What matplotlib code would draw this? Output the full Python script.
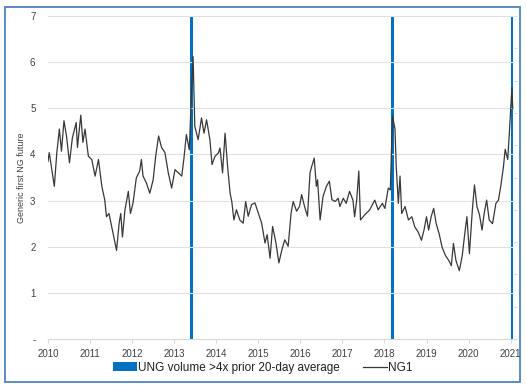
import matplotlib
matplotlib.use("Agg")
import matplotlib.pyplot as plt
from matplotlib.patches import Rectangle, Patch
from matplotlib.lines import Line2D

plt.rcParams['font.family'] = ['Liberation Sans', 'DejaVu Sans']

# NG1 front-month price (decimal year, $/MMBtu)
ng1_dates = [
    2010.00, 2010.03, 2010.15, 2010.21, 2010.27, 2010.32, 2010.38, 2010.44, 2010.51, 2010.58,
    2010.67, 2010.70, 2010.78, 2010.83, 2010.88, 2010.96, 2011.04, 2011.12, 2011.20, 2011.28,
    2011.35, 2011.39, 2011.45, 2011.50, 2011.55, 2011.63, 2011.69, 2011.73, 2011.77, 2011.83,
    2011.91, 2011.96, 2012.02, 2012.10, 2012.18, 2012.22, 2012.26, 2012.34, 2012.42, 2012.50,
    2012.56, 2012.63, 2012.70, 2012.78, 2012.86, 2012.94, 2013.02, 2013.10, 2013.18, 2013.23,
    2013.29, 2013.36, 2013.42, 2013.45, 2013.49, 2013.57, 2013.65, 2013.71, 2013.77, 2013.85,
    2013.90, 2013.97, 2014.05, 2014.09, 2014.15, 2014.21, 2014.27, 2014.33, 2014.37, 2014.42,
    2014.48, 2014.56, 2014.64, 2014.70, 2014.76, 2014.84, 2014.92, 2015.00, 2015.08, 2015.16,
    2015.21, 2015.28, 2015.34, 2015.42, 2015.49, 2015.56, 2015.63, 2015.71, 2015.78, 2015.83,
    2015.91, 2015.98, 2016.03, 2016.10, 2016.17, 2016.23, 2016.27, 2016.33, 2016.38, 2016.41,
    2016.47, 2016.54, 2016.62, 2016.69, 2016.75, 2016.83, 2016.90, 2016.94, 2017.02, 2017.09,
    2017.17, 2017.25, 2017.29, 2017.34, 2017.39, 2017.43, 2017.53, 2017.65, 2017.77, 2017.85,
    2017.95, 2018.01, 2018.09, 2018.14, 2018.19, 2018.25, 2018.28, 2018.33, 2018.37, 2018.41,
    2018.49, 2018.57, 2018.65, 2018.72, 2018.80, 2018.88, 2018.94, 2019.00, 2019.05, 2019.11,
    2019.17, 2019.23, 2019.30, 2019.37, 2019.45, 2019.53, 2019.59, 2019.64, 2019.70, 2019.78,
    2019.85, 2019.90, 2019.96, 2020.02, 2020.09, 2020.14, 2020.20, 2020.26, 2020.32, 2020.37,
    2020.43, 2020.49, 2020.57, 2020.65, 2020.71, 2020.77, 2020.83, 2020.87, 2020.93, 2020.97,
    2021.01, 2021.03, 2021.05,
]
ng1_values = [
    3.85, 4.04, 3.31, 4.04, 4.55, 4.07, 4.73, 4.40, 3.82, 4.36,
    4.69, 4.15, 4.85, 4.26, 4.55, 3.96, 3.89, 3.53, 3.89, 3.31,
    3.01, 2.65, 2.72, 2.50, 2.28, 1.92, 2.50, 2.72, 2.21, 2.80,
    3.20, 2.72, 2.94, 3.49, 3.64, 3.89, 3.53, 3.38, 3.16, 3.45,
    3.96, 4.40, 4.15, 4.04, 3.60, 3.27, 3.67, 3.60, 3.53, 3.90,
    4.43, 4.10, 5.55, 6.12, 4.61, 4.32, 4.79, 4.46, 4.75, 4.32,
    3.78, 3.96, 4.03, 4.14, 3.60, 4.46, 3.74, 3.16, 2.98, 2.58,
    2.80, 2.58, 2.51, 2.98, 2.66, 2.91, 2.95, 2.73, 2.51, 2.08,
    2.26, 1.75, 2.44, 2.08, 1.65, 1.93, 2.15, 2.01, 2.73, 2.98,
    2.77, 2.87, 3.13, 2.87, 2.66, 3.60, 3.74, 3.92, 3.31, 3.45,
    2.58, 3.09, 3.31, 3.42, 3.02, 2.98, 3.05, 2.87, 3.05, 2.94,
    3.20, 3.01, 2.65, 3.01, 3.64, 2.58, 2.69, 2.80, 3.01, 2.80,
    2.94, 2.83, 3.27, 3.23, 4.84, 4.55, 3.74, 2.94, 3.53, 2.72,
    2.87, 2.58, 2.65, 2.43, 2.32, 2.14, 2.36, 2.65, 2.36, 2.65,
    2.83, 2.50, 2.28, 1.99, 1.81, 1.70, 1.59, 2.07, 1.70, 1.48,
    1.81, 2.21, 2.65, 1.85, 2.80, 3.34, 2.87, 2.69, 2.36, 2.72,
    3.01, 2.58, 2.50, 2.94, 3.01, 3.34, 3.74, 4.11, 3.89, 4.47,
    5.13, 5.45, 5.00,
]

# days where UNG volume exceeded 4x its prior 20-day average
spike_dates = [2013.415, 2018.19, 2021.04]
spike_span = [0.06, 0.085, 0.05]
spike_flag = [1, 1, 1]

year_ticks = list(range(2010, 2022))
y_ticks = [0, 1, 2, 3, 4, 5, 6, 7]
y_labels = ['-', '1', '2', '3', '4', '5', '6', '7']

blue = '#0070C0'
grey_txt = '#404040'

fig = plt.figure(figsize=(5.26, 3.88), dpi=100)
ax = fig.add_axes([48 / 526, 1 - 339 / 388, (514 - 48) / 526, (339 - 16) / 388])
ax2 = ax.twinx()

ax2.bar(spike_dates, spike_flag, width=spike_span, color=blue, align='center', linewidth=0)
ax2.set_ylim(0, 1)
ax2.set_yticks([i / 10 for i in range(11)])
ax2.set_yticklabels([])
ax2.tick_params(axis='y', length=2, color='#d9d9d9', direction='out')
for s in ax2.spines.values():
    s.set_visible(False)

ax.set_zorder(ax2.get_zorder() + 1)
ax.patch.set_visible(False)
ax.plot(ng1_dates, ng1_values, color='#383838', lw=0.9)

ax.set_xlim(2010, 2021.08)
ax.set_ylim(0, 7)
ax.set_xticks(year_ticks)
ax.set_xticklabels([str(y) for y in year_ticks], fontsize=7, color=grey_txt)
ax.set_yticks(y_ticks)
ax.set_yticklabels(y_labels, fontsize=7, color=grey_txt)
ax.tick_params(axis='y', length=0, pad=9)
ax.tick_params(axis='x', length=3, color='#d9d9d9', pad=4)
ax.grid(axis='y', color='#e0e0e0', lw=0.8)
for side in ['top', 'right', 'left']:
    ax.spines[side].set_visible(False)
ax.spines['bottom'].set_color('#d9d9d9')
ax.set_ylabel('Generic first NG future', fontsize=6.5, color=grey_txt)
ax.yaxis.set_label_coords(-0.048, 0.5)

handles = [Patch(facecolor=blue, edgecolor='none'),
           Line2D([0], [0], color='#383838', lw=0.9)]
fig.legend(handles, ['UNG volume >4x prior 20-day average', 'NG1'],
           loc='center', bbox_to_anchor=(0.5, 1 - 368 / 388), ncol=2, frameon=False,
           fontsize=8.5, handlelength=2.0, handleheight=0.8, handletextpad=0.1,
           columnspacing=2.0, labelcolor='#202020')

fig.add_artist(Rectangle((5 / 526, 1 - 382 / 388), 515 / 526, 375 / 388,
                         transform=fig.transFigure, fill=False,
                         edgecolor='#4f81bd', lw=1.3))

fig.savefig('out.png', dpi=100)
